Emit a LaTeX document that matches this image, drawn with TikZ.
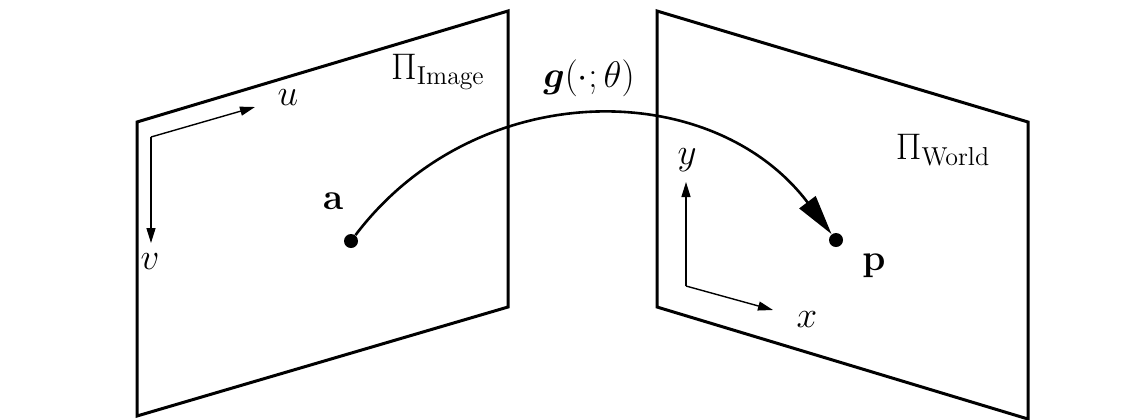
\RequirePackage{fix-cm}
\documentclass[tikz,border=0pt]{standalone}
\usepackage{amsmath,bm}
\usetikzlibrary{arrows.meta}

\begin{document}
\begin{tikzpicture}[x=0.5pt, y=-0.5pt,
    every node/.style={font=\fontsize{18.5}{22}\selectfont},
    plane/.style={line width=1.5pt, line join=miter},
    axis/.style={line width=0.7pt, -{Triangle[length=7.5pt,width=4.5pt]}},
    dot/.style={circle, fill, inner sep=0pt, minimum size=7pt},
    map/.style={line width=1.3pt, -{Triangle[length=20pt,width=10pt]}}]
    \useasboundingbox (0, 0) rectangle (1141, 419);

    % the two planes
    \draw[plane] (137, 122) -- (508, 11) -- (508, 307) -- (137, 416) -- cycle;
    \draw[plane] (657, 11) -- (1028, 122) -- (1028, 419) -- (657, 307) -- cycle;

    \node[] (pimg) at (438, 72) {$\Pi_{\mathrm{Image}}$};
    \node[] (pwld) at (943, 150) {$\Pi_{\mathrm{World}}$};

    % image axes
    \coordinate (o1) at (151, 137);
    \coordinate (ue) at (255, 107);
    \coordinate (ve) at (151, 243);
    \draw[axis] (o1) -- (ue);
    \draw[axis] (o1) -- (ve);
    \node[] (u) at (288, 98) {$u$};
    \node[] (v) at (150, 262) {$v$};

    % world axes
    \coordinate (o2) at (686, 286);
    \coordinate (xe) at (773, 310);
    \coordinate (ye) at (686, 182);
    \draw[axis] (o2) -- (xe);
    \draw[axis] (o2) -- (ye);
    \node[] (x) at (807, 320) {$x$};
    \node[] (y) at (687, 160) {$y$};

    % points and mapping
    \node[dot] (a) at (351, 241) {};
    \node[dot] (p) at (836, 240) {};
    \node[] (la) at (333, 201) {$\mathbf{a}$};
    \node[] (lp) at (874, 266) {$\mathbf{p}$};
    \draw[map] (a) .. controls (476, 76) and (712, 76) .. (p);
    \node[] (g) at (589, 78) {$\bm{g}(\cdot;\theta)$};
\end{tikzpicture}
\end{document}
